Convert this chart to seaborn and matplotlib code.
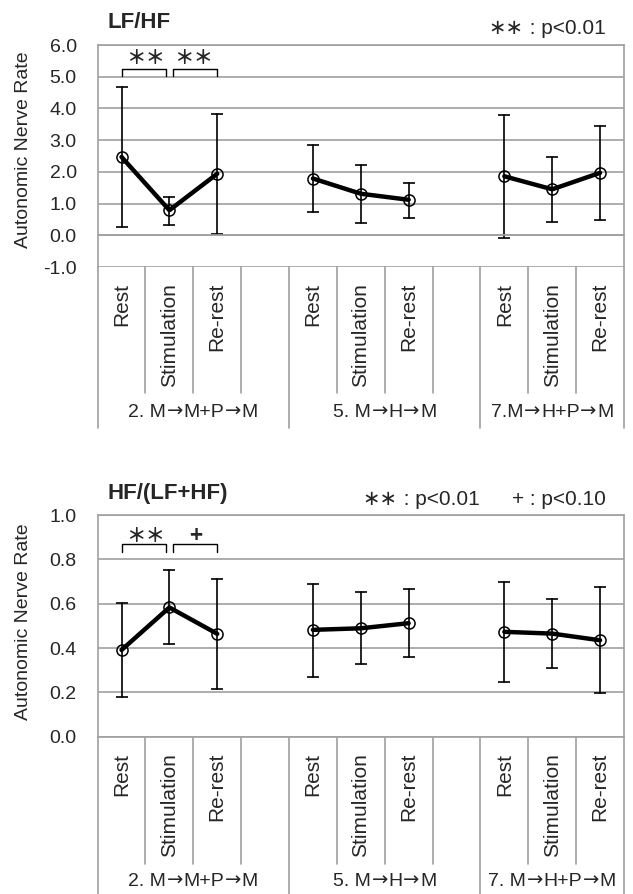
import numpy as np
import pandas as pd
import matplotlib
matplotlib.use('Agg')
import matplotlib.pyplot as plt
import matplotlib.transforms as mtransforms
import seaborn as sns

phases = ['Rest', 'Stimulation', 'Re-rest']
groups_lfhf = ['2. M→M+P→M', '5. M→H→M', '7.M→H+P→M']
groups_hf = ['2. M→M+P→M', '5. M→H→M', '7. M→H+P→M']

# mean and ends of the error bars, 3 phases per condition
lfhf_mean = [2.47, 0.79, 1.94, 1.79, 1.31, 1.12, 1.86, 1.45, 1.97]
lfhf_low = [0.25, 0.34, 0.05, 0.73, 0.39, 0.55, -0.10, 0.43, 0.49]
lfhf_high = [4.68, 1.21, 3.81, 2.84, 2.21, 1.66, 3.78, 2.47, 3.44]

hf_mean = [0.391, 0.583, 0.464, 0.482, 0.489, 0.512, 0.473, 0.465, 0.435]
hf_low = [0.181, 0.417, 0.217, 0.270, 0.328, 0.358, 0.248, 0.310, 0.196]
hf_high = [0.602, 0.753, 0.711, 0.689, 0.652, 0.668, 0.698, 0.620, 0.673]

W, H = 633, 894
GRAY = '#a0a0a0'
LIB = ['Liberation Sans', 'DejaVu Sans']
DJV = ['DejaVu Sans']
CJK = ['Noto Sans CJK JP', 'DejaVu Sans']


def fy(px):
    return 1 - px / H


def make_frame(groups, mean, low, high):
    rows = []
    for i, (m, lo, hi) in enumerate(zip(mean, low, high)):
        g, p = divmod(i, 3)
        for v in (lo, m, hi):
            rows.append({'group': groups[g], 'phase': phases[p],
                         'slot': g * 4 + p, 'value': v})
    return pd.DataFrame(rows)


def mixed_text(fig, x_px, y_px, s, size, ha='center', gap=0.5):
    # arrows and asterisks from DejaVu, the rest from Liberation
    parts = []
    for ch in s:
        fam = DJV if ch in '→∗' else LIB
        if parts and parts[-1][1] is fam:
            parts[-1][0] += ch
        else:
            parts.append([ch, fam])
    renderer = fig.canvas.get_renderer()
    texts, widths = [], []
    for txt, fam in parts:
        t = fig.text(0, fy(y_px), txt, fontsize=size, family=fam,
                     ha='left', va='baseline')
        texts.append(t)
        widths.append(t.get_window_extent(renderer).width)
    total = sum(widths) + gap * (len(widths) - 1)
    x = x_px - total / 2 if ha == 'center' else x_px - total
    for t, w in zip(texts, widths):
        t.set_x(x / W)
        x += w + gap


def draw_panel(fig, ax, df, groups, axis_bottom, sep_end, group_end, group_y):
    sns.lineplot(data=df, x='slot', y='value', hue='group', ax=ax,
                 estimator='median', errorbar=lambda v: (v.min(), v.max()),
                 err_style='bars', palette=['black'] * 3, legend=False,
                 err_kws=dict(capsize=4, elinewidth=1.2, capthick=1.2),
                 linewidth=3.2, marker='o', markersize=8,
                 markerfacecolor='none', markeredgecolor='black',
                 markeredgewidth=1.1)
    ax.set_xlim(-0.5, 10.5)
    ax.set_xlabel('')
    ax.set_xticks(np.arange(0.5, 10.5, 1))
    ax.set_xticklabels([])
    ax.yaxis.grid(True, color=GRAY, lw=1.2)
    ax.xaxis.grid(False)
    for s in ax.spines.values():
        s.set_color(GRAY)
        s.set_linewidth(1.2)
    ax.tick_params(axis='y', direction='out', length=5, width=1.2,
                   color=GRAY, labelsize=14, pad=10)
    ax.set_ylabel('Autonomic Nerve Rate', fontsize=14)

    trans = mtransforms.blended_transform_factory(ax.transData, fig.transFigure)
    for i in range(9):
        g, p = divmod(i, 3)
        ax.text(g * 4 + p, fy(axis_bottom + 16), phases[p], rotation=90,
                ha='center', va='top', fontsize=15, transform=trans)
    for x in [0.5, 1.5, 2.5, 4.5, 5.5, 6.5, 8.5, 9.5]:
        ax.plot([x, x], [fy(axis_bottom), fy(sep_end)], color=GRAY, lw=1.2,
                transform=trans, clip_on=False)
    for x in [-0.5, 3.5, 7.5, 10.5]:
        ax.plot([x, x], [fy(axis_bottom), fy(group_end)], color=GRAY, lw=1.2,
                transform=trans, clip_on=False)
    for g, cx in zip(groups, [1.5, 5.5, 9.0]):
        x_px = ax.transData.transform((cx, 0))[0]
        mixed_text(fig, x_px, group_y, g, 14)


def bracket(ax, x0, x1, y_foot, y_top, label, x_text, y_text, size):
    ax.plot([x0, x0, x1, x1], [y_foot, y_top, y_top, y_foot], color='black',
            lw=1.0, clip_on=False)
    ax.text(x_text, y_text, label, ha='center', va='center', fontsize=size,
            family=CJK, fontweight='bold')


sns.set_theme(style='white')
plt.rcParams['font.family'] = LIB
plt.rcParams['axes.unicode_minus'] = False

fig = plt.figure(figsize=(W / 100, H / 100), dpi=100)

# LF/HF
ax1 = fig.add_axes([97.6 / W, fy(267), 526.4 / W, 222 / H])
draw_panel(fig, ax1, make_frame(groups_lfhf, lfhf_mean, lfhf_low, lfhf_high),
           groups_lfhf, 267, 393, 428, 417)
ax1.set_ylim(-1, 6)
ax1.set_yticks(np.arange(-1, 6.5, 1))
ax1.set_yticklabels([f'{v:.1f}' for v in np.arange(-1, 6.5, 1)])
ax1.spines['bottom'].set_position(('data', 0))
ax1.tick_params(axis='x', direction='out', length=4.5, width=1.2, color=GRAY)
ax1.yaxis.set_label_coords(-0.125, 0.53)
bracket(ax1, 0.0, 0.93, 5.01, 5.25, '＊＊', 0.51, 5.58, 14)
bracket(ax1, 1.07, 2.0, 5.01, 5.25, '＊＊', 1.51, 5.58, 14)

# HF/(LF+HF)
ax2 = fig.add_axes([97.6 / W, fy(736.7), 526.4 / W, 221.7 / H])
draw_panel(fig, ax2, make_frame(groups_hf, hf_mean, hf_low, hf_high),
           groups_hf, 736.7, 864, 894, 886)
ax2.set_ylim(0, 1)
ax2.set_yticks(np.arange(0, 1.01, 0.2))
ax2.set_yticklabels([f'{v:.1f}' for v in np.arange(0, 1.01, 0.2)])
ax2.tick_params(axis='x', length=0)
ax2.yaxis.set_label_coords(-0.125, 0.517)
bracket(ax2, 0.0, 0.93, 0.832, 0.869, '＊＊', 0.51, 0.905, 14)
bracket(ax2, 1.07, 2.0, 0.832, 0.869, '+', 1.55, 0.908, 16)

fig.text(139 / W, fy(23), 'LF/HF', fontsize=16, fontweight='bold',
         ha='center', va='center')
fig.text(168 / W, fy(493), 'HF/(LF+HF)', fontsize=16, fontweight='bold',
         ha='center', va='center')
mixed_text(fig, 606, 34, '∗∗ : p<0.01', 15, ha='right')
mixed_text(fig, 480, 505, '∗∗ : p<0.01', 15, ha='right')
mixed_text(fig, 606, 505, '+ : p<0.10', 15, ha='right')

fig.savefig('out.png', dpi=100, facecolor='white')
